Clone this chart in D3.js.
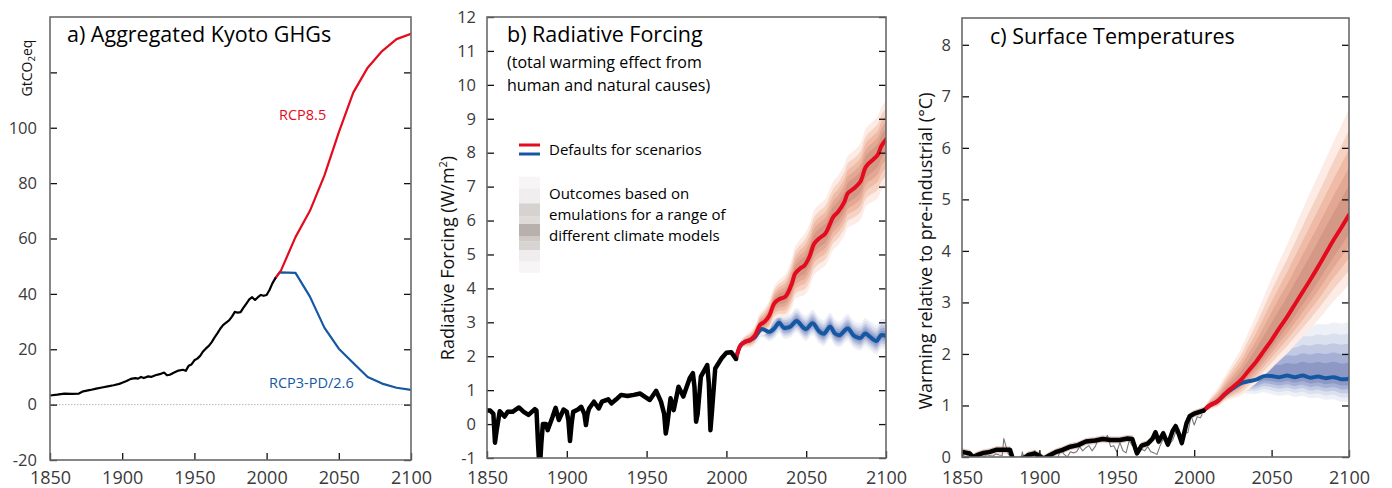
<!DOCTYPE html>
<html><head><meta charset="utf-8">
<script src="https://cdn.jsdelivr.net/npm/d3@7"></script>
<style>
body{margin:0;background:#fff;}
svg text{font-family:"Open Sans",sans-serif;}
</style></head><body>
<svg id="chart" width="1392" height="488"></svg>
<script>
// ---------------- DATA ----------------
const xTicks = [1850, 1900, 1950, 2000, 2050, 2100];
const ghgTicks = [-20, 0, 20, 40, 60, 80, 100, 120];
const rfTicks = [-1, 0, 1, 2, 3, 4, 5, 6, 7, 8, 9, 10, 11, 12];
const tempTicks = [0, 1, 2, 3, 4, 5, 6, 7, 8];

// a) Aggregated Kyoto GHGs (GtCO2eq)
const ghgHist = [[1850,3.3],[1855,3.6],[1860,4.0],[1865,3.9],[1870,4.0],[1873,4.8],[1878,5.3],[1882,5.8],[1886,6.2],[1890,6.6],[1894,7.0],[1898,7.5],[1900,7.9],[1903,8.5],[1906,9.3],[1909,9.6],[1911,9.4],[1913,10.0],[1915,9.6],[1918,10.2],[1920,10.0],[1923,10.6],[1926,11.0],[1929,11.6],[1931,10.6],[1933,10.8],[1936,11.6],[1939,12.3],[1942,12.6],[1944,12.2],[1946,14.0],[1948,14.5],[1950,16.0],[1952,16.6],[1954,17.6],[1956,19.2],[1958,20.3],[1960,21.2],[1962,22.6],[1964,24.3],[1966,25.8],[1968,27.5],[1970,28.8],[1972,29.6],[1974,30.4],[1976,31.8],[1978,33.5],[1980,33.2],[1982,33.4],[1984,35.0],[1986,36.5],[1988,38.0],[1990,38.8],[1992,37.8],[1994,38.8],[1996,39.6],[1998,39.3],[2000,39.6],[2002,41.4],[2004,43.8],[2006,45.6]];
const ghgRcp85 = [[2006,45.6],[2010,48.5],[2020,60.5],[2030,70.0],[2040,82.7],[2050,98.3],[2060,112.7],[2070,121.7],[2080,127.7],[2090,132.0],[2100,133.9]];
const ghgRcp26 = [[2006,45.6],[2009,47.8],[2020,47.6],[2030,39.0],[2040,27.8],[2050,20.2],[2060,15.0],[2070,10.0],[2080,7.6],[2090,6.1],[2100,5.3]];

// b) Radiative forcing (W/m2)
const rfHist = [[1850,0.40],[1852,0.40],[1854,0.30],[1855,-0.55],[1856,-0.20],[1858,0.38],[1861,0.22],[1863,0.36],[1866,0.36],[1870,0.49],[1873,0.36],[1876,0.27],[1880,0.44],[1881,0.40],[1882,-0.60],[1883,-1.40],[1884,-0.60],[1885,0.00],[1887,0.00],[1888,-0.18],[1891,0.20],[1893,0.48],[1895,0.12],[1898,0.43],[1900,0.36],[1901,0.10],[1902,-0.50],[1903,0.00],[1904,0.36],[1907,0.43],[1909,0.51],[1911,0.30],[1912,-0.03],[1913,0.30],[1914,0.46],[1917,0.66],[1920,0.46],[1922,0.66],[1926,0.73],[1928,0.61],[1931,0.73],[1934,0.86],[1938,0.83],[1942,0.86],[1946,0.90],[1949,0.80],[1952,0.71],[1956,0.98],[1959,0.66],[1961,0.30],[1962,-0.28],[1963,0.00],[1965,0.76],[1967,0.41],[1970,1.10],[1973,0.81],[1977,1.35],[1979,1.50],[1980,1.10],[1981,0.07],[1982,0.30],[1984,1.40],[1988,1.74],[1989,1.20],[1990,-0.18],[1991,0.40],[1993,1.64],[1997,1.94],[2000,2.10],[2003,2.12],[2006,1.92]];
const rfRcp85 = [[2006,1.92],[2009,2.33],[2012,2.43],[2015,2.48],[2018,2.62],[2021,2.92],[2024,3.02],[2027,3.21],[2030,3.56],[2033,3.68],[2037,3.76],[2041,4.14],[2043,4.43],[2046,4.58],[2049,4.68],[2052,4.93],[2055,5.32],[2058,5.47],[2062,5.62],[2065,5.91],[2067,6.11],[2070,6.26],[2074,6.56],[2076,6.80],[2080,6.95],[2084,7.15],[2087,7.55],[2089,7.68],[2092,7.80],[2095,7.95],[2097,8.19],[2100,8.39]];
const rfRcp26 = [[2006,1.92],[2009,2.33],[2012,2.43],[2015,2.48],[2018,2.57],[2022,2.80],[2027,2.72],[2030,2.82],[2033,2.99],[2036,2.84],[2040,2.87],[2044,3.04],[2048,2.85],[2050,2.80],[2054,2.97],[2058,2.74],[2061,2.66],[2065,2.87],[2068,2.67],[2071,2.62],[2076,2.82],[2080,2.60],[2084,2.54],[2087,2.67],[2090,2.57],[2094,2.45],[2097,2.62],[2100,2.60]];
const rfBandYears = [2006, 2015, 2030, 2050, 2075, 2100];
const rfRedUp = [0.08, 0.25, 0.50, 0.95, 1.10, 1.15];
const rfRedDn = [0.08, 0.22, 0.48, 0.90, 1.00, 1.35];
const rfBlueUp = [0.08, 0.22, 0.35, 0.40, 0.42, 0.48];
const rfBlueDn = [0.08, 0.18, 0.30, 0.35, 0.36, 0.40];

// c) Surface temperatures (deg C)
const tHist = [[1850,0.10],[1855,0.07],[1857,0.00],[1860,0.04],[1864,0.08],[1868,0.10],[1872,0.14],[1877,0.14],[1881,0.14],[1883,-0.05],[1887,-0.05],[1891,0.00],[1893,0.04],[1897,0.07],[1901,0.00],[1903,-0.03],[1907,0.04],[1911,0.10],[1915,0.14],[1920,0.20],[1925,0.23],[1930,0.30],[1936,0.32],[1941,0.35],[1946,0.33],[1952,0.33],[1957,0.36],[1960,0.35],[1963,0.07],[1966,0.22],[1970,0.26],[1973,0.35],[1975,0.48],[1977,0.30],[1980,0.46],[1983,0.24],[1986,0.50],[1988,0.60],[1990,0.45],[1992,0.27],[1995,0.65],[1997,0.79],[2000,0.84],[2003,0.87],[2006,0.90]];
const tObs = [[1850,0.05],[1852,0.00],[1854,0.03],[1856,-0.05],[1858,0.02],[1860,-0.02],[1862,-0.08],[1864,0.00],[1866,0.05],[1868,0.03],[1870,0.02],[1872,0.06],[1874,0.04],[1876,0.03],[1877,0.36],[1878,0.25],[1880,0.05],[1882,0.02],[1884,-0.05],[1886,-0.02],[1888,-0.05],[1889,0.10],[1890,-0.05],[1892,-0.02],[1894,-0.03],[1896,0.06],[1897,0.12],[1898,-0.02],[1900,0.10],[1902,0.00],[1904,-0.08],[1906,0.05],[1908,-0.05],[1910,-0.05],[1912,0.00],[1914,0.15],[1916,0.05],[1918,0.00],[1920,0.10],[1922,0.08],[1924,0.10],[1926,0.20],[1928,0.12],[1930,0.18],[1932,0.22],[1934,0.12],[1936,0.20],[1938,0.34],[1940,0.38],[1942,0.33],[1944,0.42],[1946,0.20],[1948,0.22],[1950,0.10],[1952,0.28],[1954,0.12],[1956,0.08],[1958,0.32],[1960,0.22],[1962,0.26],[1964,0.05],[1966,0.15],[1968,0.12],[1970,0.20],[1972,0.10],[1974,0.08],[1976,0.05],[1978,0.22],[1980,0.35],[1982,0.28],[1984,0.25],[1986,0.32],[1988,0.48],[1990,0.55],[1992,0.38],[1994,0.45],[1996,0.48],[1998,0.80],[2000,0.62],[2002,0.78],[2004,0.76],[2005,0.82]];
const tRcp85 = [[2006,0.90],[2010,1.00],[2015,1.08],[2020,1.23],[2025,1.36],[2030,1.49],[2035,1.67],[2040,1.85],[2045,2.06],[2050,2.27],[2055,2.50],[2060,2.72],[2065,2.96],[2070,3.20],[2075,3.44],[2080,3.69],[2085,3.95],[2090,4.21],[2095,4.45],[2100,4.70]];
const tRcp26 = [[2006,0.90],[2010,1.00],[2015,1.08],[2020,1.22],[2025,1.33],[2030,1.43],[2035,1.47],[2040,1.50],[2045,1.57],[2050,1.57],[2055,1.55],[2060,1.58],[2065,1.55],[2070,1.58],[2075,1.54],[2080,1.56],[2085,1.53],[2090,1.55],[2095,1.51],[2100,1.52]];
const tBandYears = [2006, 2020, 2030, 2050, 2075, 2100];
const tRedUp = [0.05, 0.35, 0.60, 1.20, 1.70, 2.05];
const tRedDn = [0.05, 0.15, 0.30, 0.55, 0.95, 1.35];
const tBlueUp = [0.05, 0.18, 0.32, 0.80, 1.00, 1.10];
const tBlueDn = [0.05, 0.12, 0.20, 0.35, 0.40, 0.45];

// ---------------- STYLE ----------------
const RED = "#e30b1d", BLUE = "#1458a4";
const FRAME = "#6a6a6a", LABEL = "#3a3a3a";
const bandFracs = [1.0, 0.8, 0.62, 0.45, 0.28];
const redShades = ["#fcece5", "#f6d2c3", "#efbba7", "#e3a893", "#d49986"];
const blueShades = ["#eef0f7", "#dbe0ef", "#c2c9e3", "#a6b0d6", "#8e98c4"];
const legendShades = ["#f7f5f5","#f0eeee","#d6d2d0","#dedbd9","#b8b0ac","#cfcac8","#d8d4d2","#efeded","#f7f5f5"];
const legendBreaks = [176.7,188.3,203.3,216.7,224,236.7,241.7,250,261.7,272.7];

const svg = d3.select("#chart");

function makePanel(o) {
  const x = d3.scaleLinear().domain([1850, 2100]).range([o.x0, o.x1]);
  const y = d3.scaleLinear().domain(o.yDomain).range([o.y1, o.y0]);
  const clipId = "clip" + o.id;
  svg.append("clipPath").attr("id", clipId).append("rect")
    .attr("x", o.x0).attr("y", o.y0).attr("width", o.x1 - o.x0).attr("height", o.y1 - o.y0);
  const plot = svg.append("g").attr("clip-path", `url(#${clipId})`);
  return { x, y, plot, o };
}

function drawAxes(p, yTicks, yFmt) {
  const { x, y, o } = p;
  const g = svg.append("g");
  const left = g.append("g").attr("transform", `translate(${o.x0},0)`)
    .call(d3.axisLeft(y).tickValues(yTicks).tickSize(-7).tickPadding(o.lpad).tickFormat(yFmt));
  const right = g.append("g").attr("transform", `translate(${o.x1},0)`)
    .call(d3.axisRight(y).tickValues(yTicks).tickSize(-7).tickFormat(""));
  const bottom = g.append("g").attr("transform", `translate(0,${o.y1})`)
    .call(d3.axisBottom(x).tickValues(xTicks).tickSize(-7).tickPadding(o.bpad).tickFormat(d3.format("d")));
  [left, right, bottom].forEach(a => {
    a.select(".domain").remove();
    a.selectAll(".tick line").attr("stroke", "#111").attr("stroke-width", 1.3);
    a.selectAll("text").attr("fill", LABEL).style("font-family", "'Open Sans',sans-serif");
  });
  left.selectAll("text").attr("font-size", 16.5);
  bottom.selectAll("text").attr("font-size", 18);
  g.append("rect").attr("x", o.x0).attr("y", o.y0).attr("width", o.x1 - o.x0).attr("height", o.y1 - o.y0)
    .attr("fill", "none").attr("stroke", FRAME).attr("stroke-width", 1.6);
}

function line(p, data, color, width, curve) {
  const gen = d3.line().x(d => p.x(d[0])).y(d => p.y(d[1])).curve(curve || d3.curveLinear);
  p.plot.append("path").datum(data).attr("d", gen).attr("fill", "none")
    .attr("stroke", color).attr("stroke-width", width)
    .attr("stroke-linejoin", "round").attr("stroke-linecap", "round");
}

function bands(p, data, yrs, up, dn, shades, curve) {
  const su = d3.scaleLinear().domain(yrs).range(up).clamp(true);
  const sd = d3.scaleLinear().domain(yrs).range(dn).clamp(true);
  bandFracs.forEach((f, i) => {
    const area = d3.area().x(d => p.x(d[0]))
      .y0(d => p.y(d[1] - sd(d[0]) * f)).y1(d => p.y(d[1] + su(d[0]) * f))
      .curve(curve || d3.curveLinear);
    p.plot.append("path").datum(data).attr("d", area).attr("fill", shades[i]);
  });
}

function histBand(p, data, w, color, curve) {
  const area = d3.area().x(d => p.x(d[0])).y0(d => p.y(d[1] - w)).y1(d => p.y(d[1] + w)).curve(curve || d3.curveLinear);
  p.plot.append("path").datum(data).attr("d", area).attr("fill", color);
}

function text(s, x, y, size, color, anchor) {
  return svg.append("text").attr("x", x).attr("y", y).attr("font-size", size)
    .attr("fill", color || "#000").attr("text-anchor", anchor || "start").text(s);
}

// ---------------- PANEL A ----------------
const pa = makePanel({ id: "a", x0: 50, x1: 411, y0: 17, y1: 460, yDomain: [-20, 140], lpad: 13, bpad: 11 });
pa.plot.append("line").attr("x1", 50).attr("x2", 411).attr("y1", pa.y(0)).attr("y2", pa.y(0))
  .attr("stroke", "#b5b5b5").attr("stroke-width", 1).attr("stroke-dasharray", "1.5,1.5");
line(pa, ghgRcp26, BLUE, 2.2);
line(pa, ghgRcp85, RED, 2.2);
line(pa, ghgHist, "#000", 2.2);
drawAxes(pa, ghgTicks, d => d === 120 ? "" : d);
text("a) Aggregated Kyoto GHGs", 67, 42, 21.5);
text("RCP8.5", 279, 120, 14.5, RED);
text("RCP3-PD/2.6", 269, 388, 14.5, BLUE);
const gt = svg.append("text").attr("transform", "translate(32,68) rotate(-90)").attr("text-anchor", "middle")
  .attr("font-size", 14).attr("fill", "#111");
gt.append("tspan").text("GtCO");
gt.append("tspan").attr("font-size", 9.5).attr("dy", 3).text("2");
gt.append("tspan").attr("dy", -3).text("eq");

// ---------------- PANEL B ----------------
const smooth = d3.curveCatmullRom.alpha(0.5);
const pb = makePanel({ id: "b", x0: 487, x1: 886, y0: 17, y1: 458, yDomain: [-1, 12], lpad: 11, bpad: 13 });
histBand(pb, rfHist, 0.07, "#ecd3ce");
bands(pb, rfRcp26, rfBandYears, rfBlueUp, rfBlueDn, blueShades, smooth);
bands(pb, rfRcp85, rfBandYears, rfRedUp, rfRedDn, redShades, smooth);
line(pb, rfRcp26, BLUE, 4, smooth);
line(pb, rfRcp85, RED, 4, smooth);
line(pb, rfHist, "#000", 4.5);
drawAxes(pb, rfTicks, d => d);
text("b) Radiative Forcing", 507, 42, 21.5);
text("(total warming effect from", 507, 68, 16);
text("human and natural causes)", 507, 91, 16);
// legend
svg.append("line").attr("x1", 519).attr("x2", 540).attr("y1", 145).attr("y2", 145).attr("stroke", RED).attr("stroke-width", 3);
svg.append("line").attr("x1", 519).attr("x2", 540).attr("y1", 154).attr("y2", 154).attr("stroke", BLUE).attr("stroke-width", 3);
text("Defaults for scenarios", 549, 155, 15);
legendShades.forEach((c, i) => {
  svg.append("rect").attr("x", 519).attr("width", 21)
    .attr("y", legendBreaks[i]).attr("height", legendBreaks[i + 1] - legendBreaks[i]).attr("fill", c);
});
text("Outcomes based on", 549, 199, 15);
text("emulations for a range of", 549, 220, 15);
text("different climate models", 549, 241, 15);
const rfl = svg.append("text").attr("transform", "translate(454,258) rotate(-90)").attr("text-anchor", "middle")
  .attr("font-size", 18).attr("fill", "#111");
rfl.append("tspan").text("Radiative Forcing (W/m");
rfl.append("tspan").attr("font-size", 11).attr("dy", -7).text("2");
rfl.append("tspan").attr("dy", 7).text(")");

// ---------------- PANEL C ----------------
const pc = makePanel({ id: "c", x0: 962, x1: 1349, y0: 18, y1: 457, yDomain: [0, 8.52], lpad: 11, bpad: 14 });
histBand(pc, tHist, 0.07, "#e6c9c4");
bands(pc, tRcp26, tBandYears, tBlueUp, tBlueDn, blueShades, smooth);
bands(pc, tRcp85, tBandYears, tRedUp, tRedDn, redShades, smooth);
line(pc, tObs, "#7a7a7a", 1.1);
line(pc, tRcp26, BLUE, 4, smooth);
line(pc, tRcp85, RED, 4, smooth);
line(pc, tHist, "#000", 4.5);
drawAxes(pc, tempTicks, d => d);
text("c) Surface Temperatures", 990, 44, 21.5);
svg.append("text").attr("transform", "translate(932,251) rotate(-90)").attr("text-anchor", "middle")
  .attr("font-size", 18).attr("fill", "#111").text("Warming relative to pre-industrial (°C)");
</script>
</body></html>
